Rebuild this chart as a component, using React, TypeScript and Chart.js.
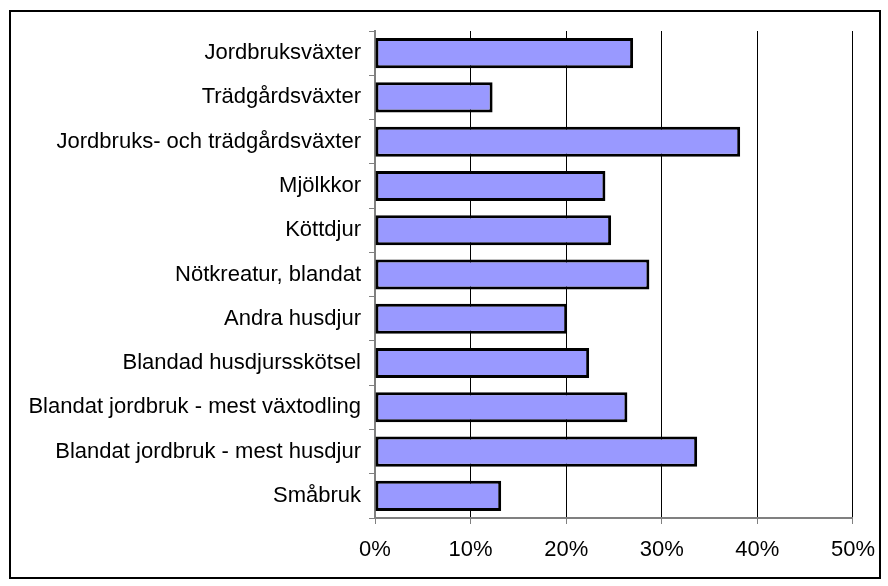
import React, { useEffect, useRef } from "react";
import { Chart, registerables } from "chart.js";

Chart.register(...registerables);

const categories: string[] = [
  "Jordbruksväxter",
  "Trädgårdsväxter",
  "Jordbruks- och trädgårdsväxter",
  "Mjölkkor",
  "Köttdjur",
  "Nötkreatur, blandat",
  "Andra husdjur",
  "Blandad husdjursskötsel",
  "Blandat jordbruk - mest växtodling",
  "Blandat jordbruk - mest husdjur",
  "Småbruk",
];

const shares: number[] = [27.0, 12.3, 38.2, 24.1, 24.7, 28.7, 20.1, 22.4, 26.4, 33.7, 13.2];

const xMin = 0;
const xMax = 50;
const xStep = 10;

const FONT = "'Liberation Sans', Arial, sans-serif";

const framePlugin = {
  id: "frame",
  afterDraw(chart: any) {
    const ctx = chart.ctx;
    ctx.save();
    ctx.strokeStyle = "#000";
    ctx.lineWidth = 2;
    ctx.strokeRect(10, 11, 870, 567);
    ctx.restore();
  },
};

export default function App() {
  const ref = useRef<HTMLCanvasElement | null>(null);
  useEffect(() => {
    if (!ref.current) return;
    const chart = new Chart(ref.current, {
      type: "bar",
      data: {
        labels: categories,
        datasets: [
          {
            data: shares,
            backgroundColor: "#9999FF",
            borderColor: "#000000",
            borderWidth: 3,
            borderSkipped: false,
            categoryPercentage: 0.68,
            barPercentage: 1,
          },
        ],
      },
      options: {
        indexAxis: "y",
        responsive: false,
        animation: false,
        layout: { padding: { top: 31, right: 35, left: 0, bottom: 0 } },
        plugins: {
          legend: { display: false },
          tooltip: { enabled: false },
        },
        scales: {
          x: {
            min: xMin,
            max: xMax,
            afterFit: (s: any) => {
              s.height = 68;
            },
            ticks: {
              stepSize: xStep,
              color: "#000",
              font: { family: FONT, size: 22 },
              padding: 13,
              maxRotation: 0,
              callback: (v: any) => v + "%",
            },
            grid: {
              color: "#000",
              lineWidth: 1,
              tickColor: "#808080",
              tickLength: 6,
              drawTicks: true,
            },
            border: { display: true, color: "#808080", width: 2 },
          },
          y: {
            afterFit: (s: any) => {
              s.width = 375;
            },
            ticks: {
              color: "#000",
              font: { family: FONT, size: 22 },
              padding: 8,
            },
            grid: {
              drawOnChartArea: false,
              drawTicks: true,
              tickLength: 6,
              tickColor: "#808080",
              offset: true,
            },
            border: { display: true, color: "#808080", width: 2 },
          },
        },
      },
      plugins: [framePlugin],
    });
    return () => chart.destroy();
  }, []);
  return (
    <div style={{ position: "absolute", left: 0, top: 0, width: 888, height: 586, background: "#fff" }}>
      <canvas ref={ref} width={888} height={586} />
    </div>
  );
}
